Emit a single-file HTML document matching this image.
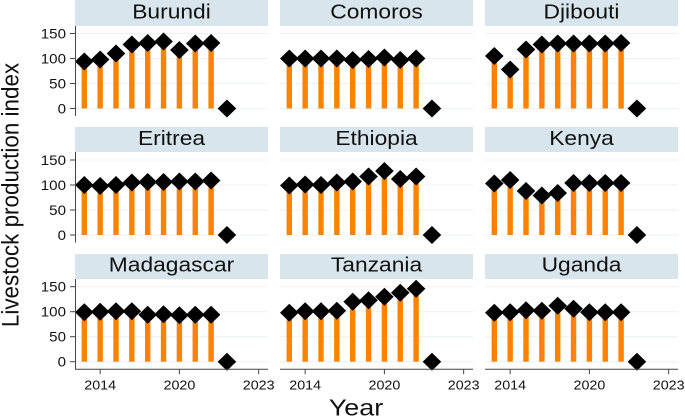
<!DOCTYPE html>
<html lang="en">
<head>
<meta charset="utf-8">
<title>Livestock production index</title>
<style>
  html, body { margin: 0; padding: 0; background: #fff; }
  svg { display: block; font-family: "Liberation Sans", sans-serif; }
</style>
</head>
<body>
<svg id="chart" xmlns="http://www.w3.org/2000/svg" width="685" height="416" viewBox="0 0 685 416"></svg>
<script>
const countries = ['Burundi', 'Comoros', 'Djibouti', 'Eritrea', 'Ethiopia', 'Kenya', 'Madagascar', 'Tanzania', 'Uganda'];
const burundi = [94, 98, 110, 128, 131, 134, 117, 130, 131, 0];
const comoros = [100, 100, 100, 100, 97, 99, 102, 97, 100, 0];
const djibouti = [105, 78, 118, 128, 130, 130, 130, 130, 131, 0];
const eritrea = [100, 98, 100, 105, 106, 106, 107, 107, 109, 0];
const ethiopia = [99, 101, 100, 105, 107, 117, 128, 112, 117, 0];
const kenya = [103, 110, 88, 79, 84, 104, 104, 104, 104, 0];
const madagascar = [99, 100, 101, 101, 94, 95, 93, 94, 94, 0];
const tanzania = [98, 101, 101, 102, 120, 123, 130, 138, 146, 0];
const uganda = [98, 99, 103, 102, 112, 106, 99, 99, 99, 0];
const seriesList = [burundi, comoros, djibouti, eritrea, ethiopia, kenya, madagascar, tanzania, uganda];
const yTicks = [0, 50, 100, 150];
const xSlotLabels = ['', '2014', '', '', '', '', '2020', '', '', '', '', '2023'];

const NS = 'http://www.w3.org/2000/svg';
const svg = document.getElementById('chart');
const colLeft = [75, 280, 485];
const stripTop = [0, 127, 254];
const stripBottom = [26, 152, 279];
const titleBaseline = [18.5, 145, 271.7];
const zeroY = [108.5, 235, 361.7];
const panelWidth = 193;

function xScale(col, slot) { return colLeft[col] + 9.3 + slot * 15.85; }
function yScale(row, v) { return zeroY[row] - v * 0.5; }
function make(tag, attrs, parent) {
  const el = document.createElementNS(NS, tag);
  for (const k in attrs) el.setAttribute(k, attrs[k]);
  parent.appendChild(el);
  return el;
}
function stretchedText(str, x, y, size, anchor, parent, sx) {
  const t = make('text', { transform: 'translate(' + x + ' ' + y + ') scale(' + sx + ' 1)', 'font-size': size, 'text-anchor': anchor, fill: '#111' }, parent);
  t.textContent = str;
  return t;
}

countries.forEach(function (name, i) {
  const col = i % 3;
  const row = Math.floor(i / 3);
  const values = seriesList[i];
  const left = colLeft[col];
  const panel = make('g', {}, svg);
  
  

  const strip = make('rect', { x: left, y: stripTop[row], width: panelWidth, height: stripBottom[row] - stripTop[row], fill: '#d9e5ec' }, panel);
  
  
  const title = stretchedText(name, left + panelWidth / 2, titleBaseline[row], 20, 'middle', panel, 1.14);
  
  

  yTicks.forEach(function (v) {
    const grid = make('line', { x1: left, x2: left + panelWidth, y1: yScale(row, v), y2: yScale(row, v), stroke: '#eaf2f3', 'stroke-width': 1 }, panel);
    
    
  });

  values.forEach(function (v, s) {
    if (v <= 0) return;
    const bar = make('rect', { x: xScale(col, s) - 2.7, y: yScale(row, v), width: 5.4, height: yScale(row, 0) - yScale(row, v), fill: '#ff8200' }, panel);
    
    
  });
  values.forEach(function (v, s) {
    const cx = xScale(col, s);
    const cy = yScale(row, v);
    const pts = [[cx - 9.3, cy], [cx, cy - 9], [cx + 9.3, cy], [cx, cy + 9]].map(function (p) { return p.join(','); }).join(' ');
    const mark = make('polygon', { points: pts, fill: '#000' }, panel);
    
    
  });

  if (col === 0) {
    const yAxis = make('line', { x1: left + 0.5, x2: left + 0.5, y1: stripBottom[row], y2: yScale(row, 0) + 7.5, stroke: '#444', 'stroke-width': 1 }, panel);
    
    
    yTicks.forEach(function (v) {
      const tick = make('line', { x1: left - 5, x2: left, y1: yScale(row, v), y2: yScale(row, v), stroke: '#444', 'stroke-width': 1 }, panel);
      
      
      const lab = stretchedText(String(v), left - 9, yScale(row, v) + 5, 14, 'end', panel, 1.08);
      
      
    });
  }

  if (row === 2) {
    const axisY = zeroY[row] + 7.5;
    const xAxis = make('line', { x1: left, x2: left + panelWidth, y1: axisY, y2: axisY, stroke: '#444', 'stroke-width': 1 }, panel);
    
    
    xSlotLabels.forEach(function (label, s) {
      if (!label) return;
      const tick = make('line', { x1: xScale(col, s), x2: xScale(col, s), y1: axisY, y2: axisY + 5, stroke: '#444', 'stroke-width': 1 }, panel);
      
      
      const lab = stretchedText(label, xScale(col, s), 389.5, 13, 'middle', panel, 1.1);
      
      
    });
  }
});

const xTitle = stretchedText('Year', 356, 415.5, 23, 'middle', svg, 1.17);



const yTitle = make('text', { transform: 'translate(18.5 195) rotate(-90) scale(0.935 1)', 'font-size': 24, 'text-anchor': 'middle', fill: '#111' }, svg);
yTitle.textContent = 'Livestock production index';


</script>
</body>
</html>
